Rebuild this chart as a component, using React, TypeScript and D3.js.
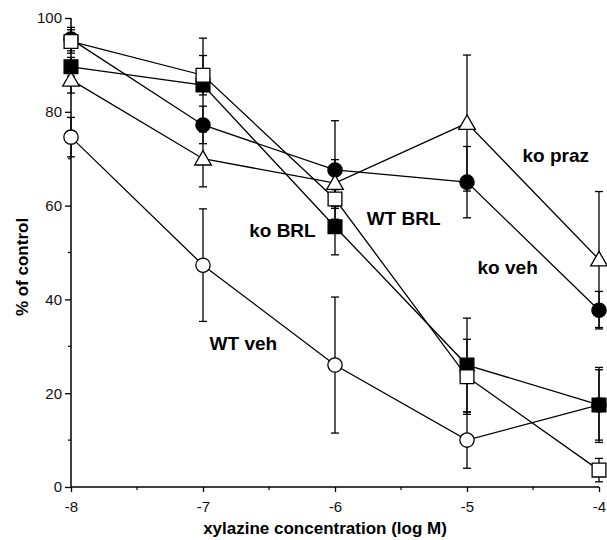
import * as d3 from 'd3';
import React, { useRef, useEffect } from 'react';

// log M concentrations
const doses = [-8, -7, -6, -5, -4];

// % of control, one array per group
const wtVeh = [74.6, 47.3, 26, 10, 17.5];
const wtVehErr = [4.2, 12, 14.5, 6, 7.5];
const koVeh = [95.5, 77.2, 67.6, 65, 37.7];
const koVehErr = [2.5, 4, 10.5, 7.6, 4];
const koBrl = [89.6, 85.7, 55.5, 26, 17.5];
const koBrlErr = [2, 10, 6, 10, 8];
const wtBrl = [95, 87.8, 61.4, 23.5, 3.6];
const wtBrlErr = [2.5, 4.2, 2, 8, 2.5];
const koPraz = [86.8, 70, 64.8, 77.6, 48.5];
const koPrazErr = [2.8, 6, 5, 14.5, 14.5];

const yTicks = [0, 20, 40, 60, 80, 100];
const yMinor = [10, 30, 50, 70, 90];
const xMinor = [-7.5, -6.5, -5.5, -4.5];

const labels = [
  { text: 'ko praz', x: -4.58, y: 69.4 },
  { text: 'WT BRL', x: -5.76, y: 55.8 },
  { text: 'ko BRL', x: -6.65, y: 53.4 },
  { text: 'ko veh', x: -4.92, y: 45.5 },
  { text: 'WT veh', x: -6.95, y: 29.3 },
];

type Shape = 'circle' | 'square' | 'triangle';
const series: { name: string; vals: number[]; err: number[]; shape: Shape; fill: string }[] = [
  { name: 'WT veh', vals: wtVeh, err: wtVehErr, shape: 'circle', fill: '#fff' },
  { name: 'ko veh', vals: koVeh, err: koVehErr, shape: 'circle', fill: '#000' },
  { name: 'ko praz', vals: koPraz, err: koPrazErr, shape: 'triangle', fill: '#fff' },
  { name: 'ko BRL', vals: koBrl, err: koBrlErr, shape: 'square', fill: '#000' },
  { name: 'WT BRL', vals: wtBrl, err: wtBrlErr, shape: 'square', fill: '#fff' },
];

export default function App() {
  const ref = useRef<SVGSVGElement>(null);

  useEffect(() => {
    const svg = d3.select(ref.current);
    svg.selectAll('*').remove();

    const x = d3.scaleLinear().domain([-8, -4]).range([71, 599]);
    const y = d3.scaleLinear().domain([0, 100]).range([487, 18]);
    const font = 'Liberation Sans, Arial, sans-serif';

    // axes
    const yAxis = svg.append('g').attr('transform', 'translate(71,0)');
    yAxis.call(d3.axisLeft(y).tickValues(yTicks).tickSize(6).tickPadding(3).tickFormat(d => String(d)) as any);
    yAxis.select('.domain').attr('stroke-width', 1.5).attr('d', `M0,${y(0)}V${y(100)}`);
    yAxis.selectAll('.tick line').attr('stroke-width', 1.3);
    yAxis.selectAll('.tick text').attr('font-family', font).attr('font-size', 15).attr('fill', '#111');
    yAxis.selectAll('.minor').data(yMinor).enter().append('line')
      .attr('x1', -3).attr('x2', 0).attr('y1', d => y(d)).attr('y2', d => y(d))
      .attr('stroke', '#000').attr('stroke-width', 1.2);

    const xAxis = svg.append('g').attr('transform', `translate(0,${y(0)})`);
    xAxis.call(d3.axisBottom(x).tickValues(doses).tickSize(5).tickPadding(9).tickFormat(d => String(d)) as any);
    xAxis.select('.domain').attr('stroke-width', 1.5).attr('d', `M${x(-8)},0H${x(-4)}`);
    xAxis.selectAll('.tick line').attr('stroke-width', 1.3);
    xAxis.selectAll('.tick text').attr('font-family', font).attr('font-size', 15).attr('fill', '#111');
    xAxis.selectAll('.minor').data(xMinor).enter().append('line')
      .attr('x1', d => x(d)).attr('x2', d => x(d)).attr('y1', 0).attr('y2', 3)
      .attr('stroke', '#000').attr('stroke-width', 1.2);

    svg.append('text').attr('x', 325).attr('y', 534)
      .attr('text-anchor', 'middle').attr('font-family', font).attr('font-weight', 'bold')
      .attr('font-size', 17).text('xylazine concentration (log M)');
    svg.append('text').attr('transform', 'translate(28,267) rotate(-90)')
      .attr('text-anchor', 'middle').attr('font-family', font).attr('font-weight', 'bold')
      .attr('font-size', 17).text('% of control');

    // error bars
    const eb = svg.append('g').attr('stroke', '#000').attr('stroke-width', 1.3);
    series.forEach(s => {
      s.vals.forEach((v, i) => {
        const cx = x(doses[i]);
        const top = y(v + s.err[i]);
        const bot = y(v - s.err[i]);
        eb.append('line').attr('x1', cx).attr('x2', cx).attr('y1', top).attr('y2', bot);
        eb.append('line').attr('x1', cx - 4).attr('x2', cx + 4).attr('y1', top).attr('y2', top);
        eb.append('line').attr('x1', cx - 4).attr('x2', cx + 4).attr('y1', bot).attr('y2', bot);
      });
    });

    // lines
    const line = d3.line<number>().x((d, i) => x(doses[i])).y(d => y(d));
    series.forEach(s => {
      svg.append('path').attr('d', line(s.vals)).attr('fill', 'none')
        .attr('stroke', '#000').attr('stroke-width', 1.3);
    });

    // markers
    const sym = { circle: d3.symbolCircle, square: d3.symbolSquare, triangle: d3.symbolTriangle };
    const size = { circle: 160, square: 190, triangle: 120 };
    series.forEach(s => {
      svg.append('g').selectAll('path').data(s.vals).enter().append('path')
        .attr('d', d3.symbol().type(sym[s.shape]).size(size[s.shape]) as any)
        .attr('transform', (d, i) => `translate(${x(doses[i])},${y(d) + (s.shape === 'triangle' ? 1.5 : 0)})`)
        .attr('fill', s.fill).attr('stroke', '#000').attr('stroke-width', 1.3);
    });

    // series labels
    svg.append('g').selectAll('text').data(labels).enter().append('text')
      .attr('x', d => x(d.x)).attr('y', d => y(d.y))
      .attr('font-family', font).attr('font-weight', 'bold').attr('font-size', 19)
      .text(d => d.text);
  }, []);

  return (
    <svg ref={ref} width={607} height={540}
      style={{ position: 'absolute', left: 0, top: 0, background: '#fff' }} />
  );
}
